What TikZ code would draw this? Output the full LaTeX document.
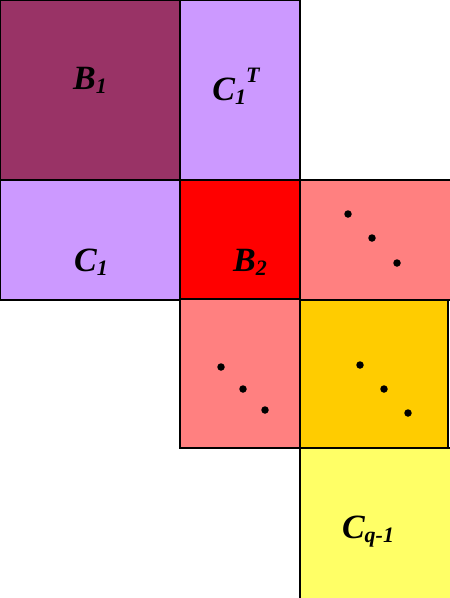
\documentclass[tikz,border=0pt]{standalone}
\usepackage{fontspec}
\setmainfont{Liberation Serif}
\definecolor{maroon}{HTML}{993366}
\definecolor{lav}{HTML}{CC99FF}
\definecolor{salmon}{HTML}{FF8080}
\definecolor{gold}{HTML}{FFCC00}
\definecolor{lyellow}{HTML}{FFFF66}
\newcommand{\sbs}[1]{\raisebox{-4pt}{\fontsize{22}{24}\selectfont #1}}
\newcommand{\sps}[1]{\raisebox{18pt}{\fontsize{22}{24}\selectfont #1}}
\tikzset{
  blk/.style={draw=black, line width=2pt},
  lbl/.style={anchor=base, inner sep=0pt, font=\fontsize{34}{36}\selectfont\bfseries\itshape},
  dotmark/.style={circle, fill=black, inner sep=0pt, minimum size=7.5pt}
}
\begin{document}
\begin{tikzpicture}[x=1pt, y=-1pt]
\useasboundingbox (0,0) rectangle (450,598);
\clip (0,0) rectangle (450,598);
\filldraw[blk, fill=maroon] (0,0) rectangle (180,180);
\filldraw[blk, fill=lav] (180,0) rectangle (300,180);
\filldraw[blk, fill=lav] (0,180) rectangle (180,300);
\filldraw[blk, fill=red] (180,180) rectangle (300,299);
\filldraw[blk, fill=salmon] (300,180) rectangle (455,300);
\filldraw[blk, fill=salmon] (180,299) rectangle (300,448);
\filldraw[blk, fill=gold] (300,300) rectangle (448,448);
\filldraw[blk, fill=lyellow] (300,448) rectangle (455,605);
\node[lbl] (b1) at (90,89) {B\sbs{1}};
\node[lbl] (c1t) at (236,100) {C\sbs{1}\sps{T}};
\node[lbl] (c1) at (91,271) {C\sbs{1}};
\node[lbl] (b2) at (250,271) {B\sbs{2}};
\node[lbl] (cq) at (368,538) {C\sbs{q-1}};
\node[dotmark] (d1) at (348,214) {};
\node[dotmark] (d2) at (372,238) {};
\node[dotmark] (d3) at (397,263) {};
\node[dotmark] (d4) at (221,367) {};
\node[dotmark] (d5) at (243,389) {};
\node[dotmark] (d6) at (265,410) {};
\node[dotmark] (d7) at (360,365) {};
\node[dotmark] (d8) at (384,389) {};
\node[dotmark] (d9) at (408,413) {};
\end{tikzpicture}
\end{document}
